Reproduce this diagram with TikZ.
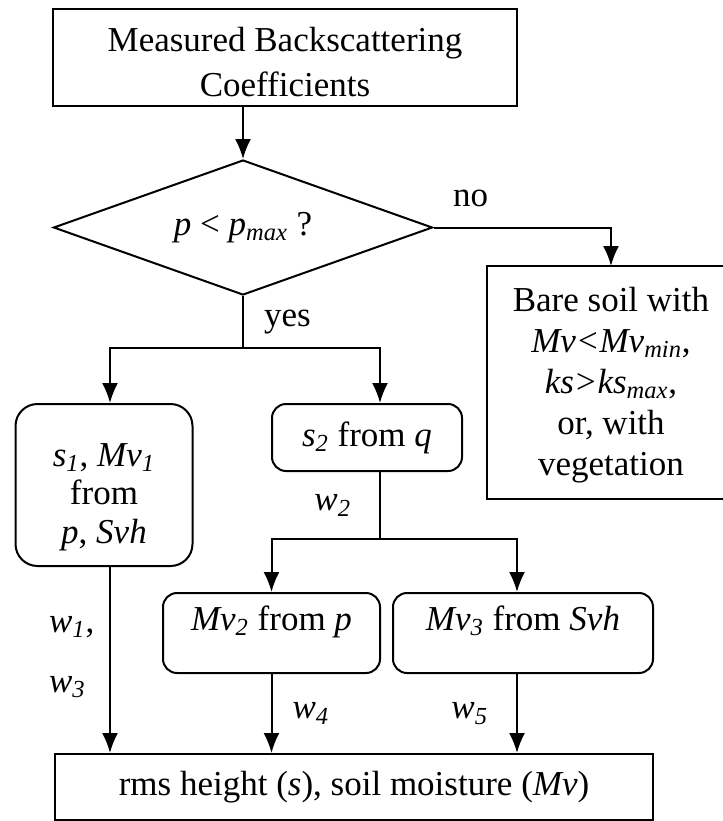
\documentclass[tikz,border=0pt]{standalone}
\usepackage{fontspec}
\setmainfont{Liberation Serif}
\usetikzlibrary{shapes.geometric, arrows.meta, positioning}

\newcommand{\lo}[1]{\textsubscript{#1}}

\begin{document}
\begin{tikzpicture}[x=1pt, y=-1pt, >={Latex[length=10pt, width=8pt]}, line width=1pt,
  font=\fontsize{17.5}{20.5}\selectfont]
  \tikzset{
    box/.style={draw, rectangle, align=center, inner sep=0pt},
    rbox/.style={box, rounded corners=7pt},
    lbl/.style={inner sep=2pt}
  }
  \useasboundingbox (0,0) rectangle (361.5,410.5);
  \clip (0,0) rectangle (361.5,410.5);

  \node[box, minimum width=232pt, minimum height=48.5pt, text height=38.5pt, text depth=0pt] (meas) at (142.5,28.75) {Measured Backscattering\\[2pt]Coefficients};
  \node[draw, diamond, aspect=2.8, inner sep=0pt, minimum width=189.5pt, minimum height=67.5pt] (test) at (121.5,113.75) {\textit{p} < \textit{p\lo{max}} ?};
  % right box runs off the page, so its right side is not drawn
  \node[box, draw=none, minimum width=123pt, minimum height=115.5pt, text height=96pt, text depth=3.5pt] (bare) at (305.5,191.25) {Bare soil with\\\textit{Mv<Mv\lo{min}},\\\textit{ks>ks\lo{max}},\\or, with\\vegetation};
  \draw (bare.north east) -- (bare.north west) -- (bare.south west) -- (bare.south east);

  \node[rbox, rounded corners=11pt, minimum width=88.5pt, minimum height=81pt, text height=61.5pt, text depth=3.5pt,
    font=\fontsize{17.5}{19.25}\selectfont] (ls1) at (52,242.5) {\textit{s\lo{1}}, \textit{Mv\lo{1}}\\from\\\textit{p}, \textit{Svh}};
  \node[rbox, minimum width=95pt, minimum height=33.5pt] (s2q) at (183.5,218.75) {\textit{s\lo{2}} from \textit{q}};
  \node[rbox, minimum width=108.5pt, minimum height=40pt, text depth=15pt] (mv2) at (135.75,316.5) {\textit{Mv\lo{2}} from \textit{p}};
  \node[rbox, minimum width=130pt, minimum height=40pt, text depth=15pt] (mv3) at (261.5,316.5) {\textit{Mv\lo{3}} from \textit{Svh}};
  \node[box, minimum width=299pt, minimum height=33pt] (rms) at (177,393.5) {rms height (\textit{s}), soil moisture (\textit{Mv})};

  % decision
  \draw[->] (meas.south -| test.north) -- (test.north);
  \draw[->] (test.east) -| (bare.north);
  \node[lbl] (no) at (235.25,99) {no};
  \coordinate (yesfork) at (121.5,174);
  \draw (test.south) -- node[lbl, right=8pt] (yes) {yes} (yesfork);
  \draw[->] (yesfork) -| ([xshift=3pt]ls1.north);
  \draw[->] (yesfork) -| ([xshift=6.5pt]s2q.north);

  % second split
  \coordinate (mvfork) at (190,269.5);
  \draw ([xshift=6.5pt]s2q.south) -- node[lbl, left=12pt] (w2) {\textit{w\lo{2}}} (mvfork);
  \draw[->] (mvfork) -| (mv2.north);
  \draw[->] (mvfork) -| ([xshift=-3pt]mv3.north);

  % into the result
  \draw[->] ([xshift=3pt]ls1.south) -- ([xshift=3pt]ls1.south |- rms.north);
  \node[lbl, anchor=west, align=left] (w13) at (22,328.5) {\textit{w\lo{1}},\\[9.5pt]\textit{w\lo{3}}};
  \draw[->] (mv2.south) -- node[lbl, right=8pt] (w4) {\textit{w\lo{4}}} (mv2.south |- rms.north);
  \draw[->] ([xshift=-3pt]mv3.south) -- node[lbl, left=12pt] (w5) {\textit{w\lo{5}}} ([xshift=-3pt]mv3.south |- rms.north);
\end{tikzpicture}
\end{document}
